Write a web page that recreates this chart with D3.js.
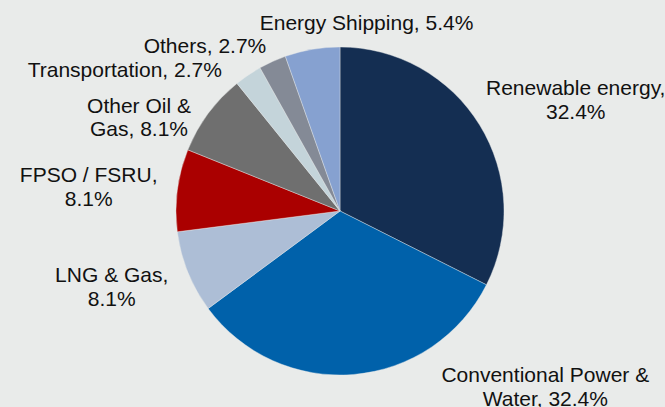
<!DOCTYPE html>

<script src="https://d3js.org/d3.v7.min.js"></script>

<svg></svg>

<script>

    var height = 407;
    var width = 665;

    // data
    var sectors = ["Renewable energy", "Conventional Power & Water", "LNG & Gas", "FPSO / FSRU",
                   "Other Oil & Gas", "Transportation", "Others", "Energy Shipping"];
    var shares = [32.4, 32.4, 8.1, 8.1, 8.1, 2.7, 2.7, 5.4];
    // how the label text is broken into lines
    var labelLines = [
        ["Renewable energy,", "32.4%"],
        ["Conventional Power &", "Water, 32.4%"],
        ["LNG & Gas,", "8.1%"],
        ["FPSO / FSRU,", "8.1%"],
        ["Other Oil &", "Gas, 8.1%"],
        ["Transportation, 2.7%"],
        ["Others, 2.7%"],
        ["Energy Shipping, 5.4%"]
    ];

    var colors = ["#142e52", "#0061aa", "#adbed6", "#aa0000", "#6f6f6f", "#c4d4da", "#848a96", "#86a1d0"];
    // nudges from the label arc to where the labels sit
    var labelNudge = [[62, -9], [188, -32], [-39, -5], [-49, -3], [-37, 23], [-101, 35], [-51, 28], [61, 20]];

    var cx = 340, cy = 211, radius = 164;

    var data = sectors.map((s, i) => ({sector: s, share: shares[i], lines: labelLines[i], i: i}));

    var svg = d3.select("svg")
        .attr("width", width)
        .attr("height", height)
        .attr("viewBox", [0, 0, width, height]);

    svg.append("rect")
        .attr("width", width)
        .attr("height", height)
        .attr("fill", "#e9ebea");

    var color = d3.scaleOrdinal(sectors, colors);

    var pie = d3.pie().sort(null).value(d => d.share);
    var arc = d3.arc().innerRadius(0).outerRadius(radius);
    var labelArc = d3.arc().innerRadius(radius + 40).outerRadius(radius + 40);

    var arcs = pie(data);

    var g = svg.append("g").attr("transform", `translate(${cx},${cy})`);

    g.selectAll("path")
        .data(arcs)
        .join("path")
        .attr("d", arc)
        .attr("fill", d => color(d.data.sector))
        .attr("stroke", "#e9ebea")
        .attr("stroke-width", 0.4);

    var labels = g.selectAll("text")
        .data(arcs)
        .join("text")
        .attr("transform", function(d) {
            var c = labelArc.centroid(d);
            var n = labelNudge[d.data.i];
            return `translate(${c[0] + n[0]},${c[1] + n[1]})`;
        })
        .attr("text-anchor", "middle")
        .attr("font-family", "Liberation Sans, Arial, sans-serif")
        .attr("font-size", "21px")
        .attr("fill", "#111");

    labels.selectAll("tspan")
        .data(d => d.data.lines)
        .join("tspan")
        .attr("x", 0)
        .attr("dy", (t, k) => k == 0 ? 0 : 23.5)
        .text(t => t);

</script>

<style>
body { margin: 0; }
svg { display: block; }
</style>
